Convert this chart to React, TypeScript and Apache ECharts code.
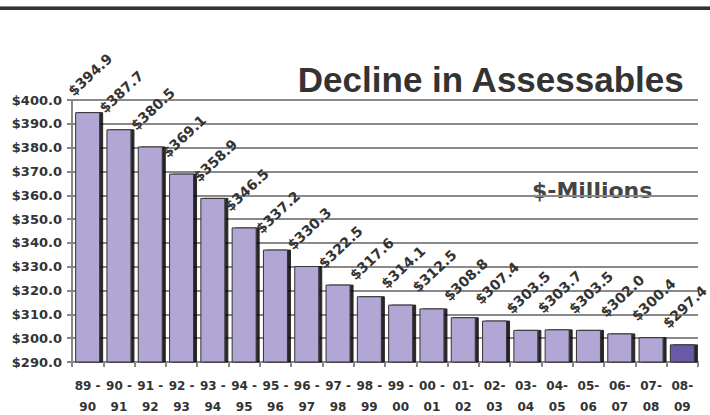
import React, { useEffect, useRef } from "react";
import * as echarts from "echarts";

const categories = [
  "89 -\n90", "90 -\n91", "91 -\n92", "92 -\n93", "93 -\n94", "94 -\n95", "95 -\n96",
  "96 -\n97", "97 -\n98", "98 -\n99", "99 -\n00", "00 -\n01", "01-\n02", "02-\n03",
  "03-\n04", "04-\n05", "05-\n06", "06-\n07", "07-\n08", "08-\n09",
];
const values = [
  394.9, 387.7, 380.5, 369.1, 358.9, 346.5, 337.2, 330.3, 322.5, 317.6,
  314.1, 312.5, 308.8, 307.4, 303.5, 303.7, 303.5, 302.0, 300.4, 297.4,
];
const yMin = 290;
const yMax = 400;
const yStep = 10;
const titleText = "Decline in Assessables";
const unitText = "$-Millions";

const FONT = "'Liberation Sans', Arial, sans-serif";
const DFONT = "'DejaVu Sans', sans-serif";

export default function App() {
  const ref = useRef<HTMLDivElement>(null);
  useEffect(() => {
    if (!ref.current) return;
    const chart = echarts.init(ref.current, null, { renderer: "svg" });
    const last = values.length - 1;
    chart.setOption({
      animation: false,
      backgroundColor: "#ffffff",
      grid: {
        left: 72,
        right: 12,
        top: 100,
        bottom: 53,
        containLabel: false,
        outerBoundsMode: "none",
      },
      graphic: [
        { type: "rect", shape: { x: 0, y: 6, width: 710, height: 1 }, style: { fill: "#888" } },
        { type: "rect", shape: { x: 0, y: 7, width: 710, height: 3 }, style: { fill: "#333" } },
        {
          type: "text",
          right: 25,
          top: 62,
          style: { text: titleText, font: `bold 35px ${FONT}`, fill: "#333" },
        },
        {
          type: "text",
          left: 532,
          top: 179,
          style: { text: unitText, font: `bold 22px ${DFONT}`, fill: "#444" },
        },
      ],
      xAxis: {
        type: "category",
        data: categories,
        axisLine: { lineStyle: { color: "#888", width: 2 } },
        axisTick: { show: true, length: 5, lineStyle: { color: "#888", width: 2 } },
        axisLabel: {
          interval: 0,
          margin: 13,
          lineHeight: 21,
          fontFamily: DFONT,
          fontWeight: "bold",
          fontSize: 12,
          color: "#333",
        },
      },
      yAxis: {
        type: "value",
        min: yMin,
        max: yMax,
        interval: yStep,
        axisLine: { show: true, lineStyle: { color: "#888", width: 2 } },
        axisTick: { show: true, length: 5, lineStyle: { color: "#888", width: 2 } },
        splitLine: { lineStyle: { color: "#8a8a8a", width: 2 } },
        axisLabel: {
          margin: 10,
          fontFamily: DFONT,
          fontWeight: "bold",
          fontSize: 13,
          color: "#333",
          formatter: (v: number) => "$" + v.toFixed(1),
        },
      },
      series: [
        {
          type: "bar",
          data: values.map((v, i) => ({
            value: v,
            itemStyle: { color: i === last ? "#6A5AA6" : "#B2A6D4" },
          })),
          barWidth: 25,
          itemStyle: {
            borderColor: "#333",
            borderWidth: 1,
            shadowColor: "rgba(0,0,0,0.85)",
            shadowOffsetX: 3,
            shadowOffsetY: 0,
            shadowBlur: 0,
          },
          label: {
            show: true,
            position: [0, -14],
            rotate: 43,
            align: "left",
            verticalAlign: "bottom",
            fontFamily: DFONT,
            fontWeight: "bold",
            fontSize: 14,
            color: "#333",
            formatter: (p: any) => "$" + Number(p.value).toFixed(1),
          },
        },
      ],
    });
    return () => chart.dispose();
  }, []);
  return <div ref={ref} style={{ width: 710, height: 415, position: "absolute", left: 0, top: 0 }} />;
}
